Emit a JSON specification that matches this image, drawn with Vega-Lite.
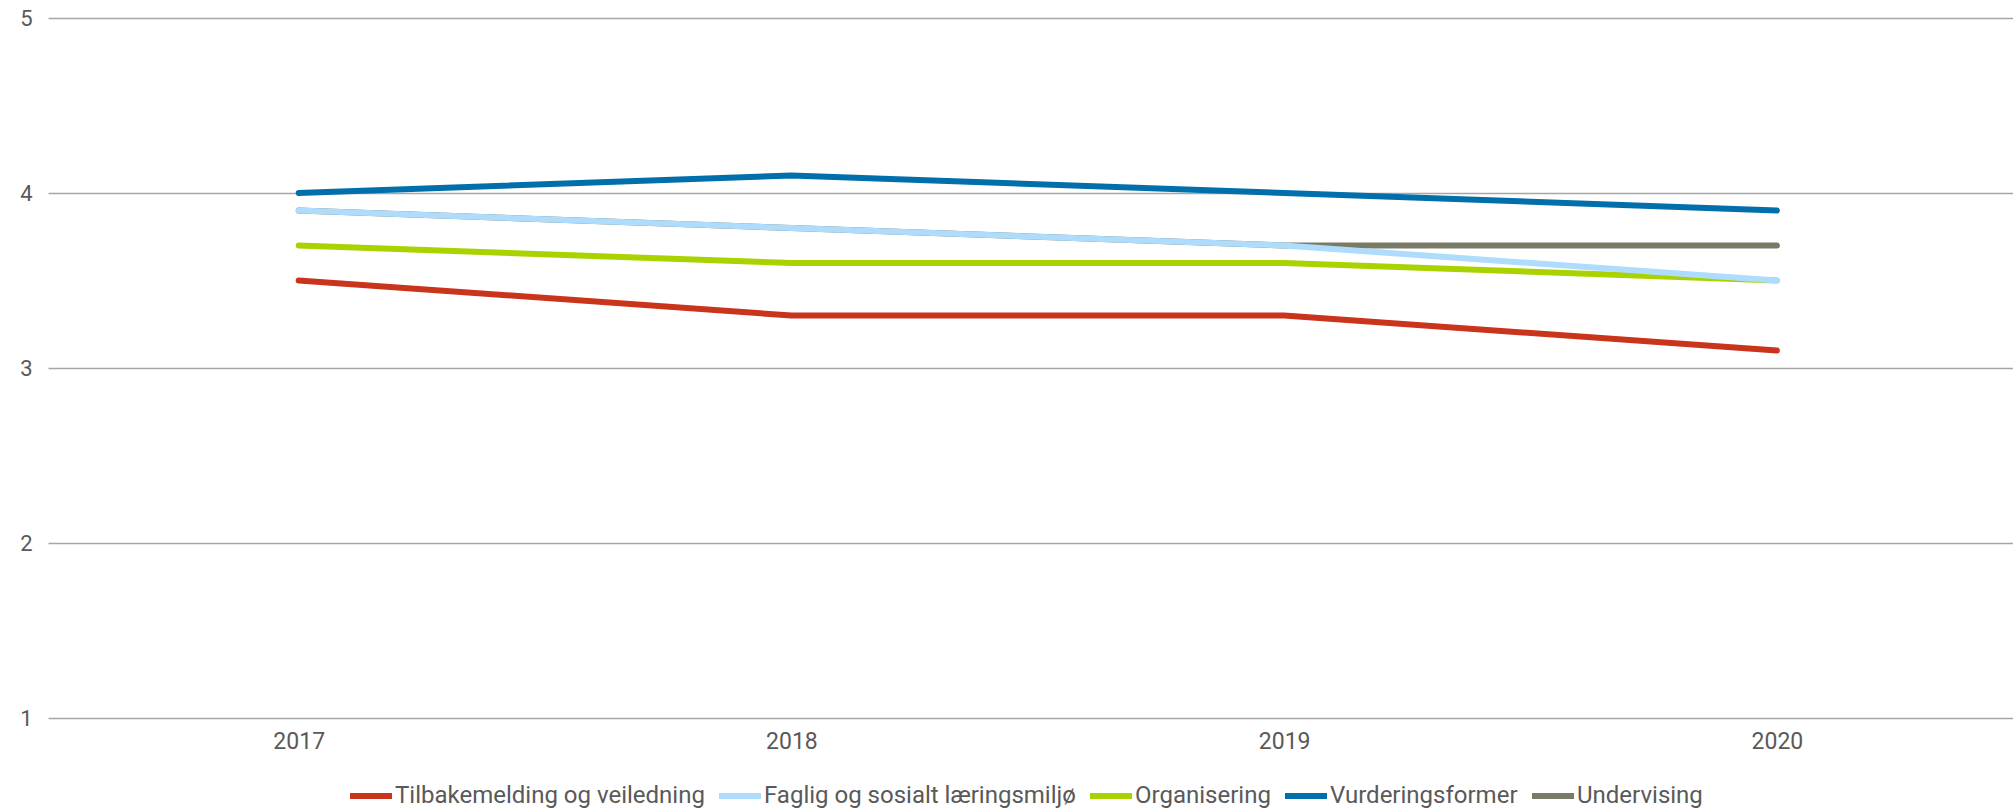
{
  "$schema": "https://vega.github.io/schema/vega-lite/v6.json",
  "width": 1965,
  "height": 700,
  "autosize": {"type": "none"},
  "padding": {"left": 48, "top": 18, "right": 0, "bottom": 91},
  "background": "white",
  "config": {
    "view": {"stroke": null},
    "font": "Roboto"
  },
  "data": {
    "values": [
      {"year": "2017", "series": "Undervising", "value": 3.9},
      {"year": "2018", "series": "Undervising", "value": 3.8},
      {"year": "2019", "series": "Undervising", "value": 3.7},
      {"year": "2020", "series": "Undervising", "value": 3.7},
      {"year": "2017", "series": "Tilbakemelding og veiledning", "value": 3.5},
      {"year": "2018", "series": "Tilbakemelding og veiledning", "value": 3.3},
      {"year": "2019", "series": "Tilbakemelding og veiledning", "value": 3.3},
      {"year": "2020", "series": "Tilbakemelding og veiledning", "value": 3.1},
      {"year": "2017", "series": "Organisering", "value": 3.7},
      {"year": "2018", "series": "Organisering", "value": 3.6},
      {"year": "2019", "series": "Organisering", "value": 3.6},
      {"year": "2020", "series": "Organisering", "value": 3.5},
      {"year": "2017", "series": "Faglig og sosialt læringsmiljø", "value": 3.9},
      {"year": "2018", "series": "Faglig og sosialt læringsmiljø", "value": 3.8},
      {"year": "2019", "series": "Faglig og sosialt læringsmiljø", "value": 3.7},
      {"year": "2020", "series": "Faglig og sosialt læringsmiljø", "value": 3.5},
      {"year": "2017", "series": "Vurderingsformer", "value": 4.0},
      {"year": "2018", "series": "Vurderingsformer", "value": 4.1},
      {"year": "2019", "series": "Vurderingsformer", "value": 4.0},
      {"year": "2020", "series": "Vurderingsformer", "value": 3.9}
    ]
  },
  "mark": {"type": "line", "strokeWidth": 6, "strokeCap": "round", "strokeJoin": "round"},
  "encoding": {
    "x": {
      "field": "year",
      "type": "ordinal",
      "scale": {"type": "point", "padding": 0.494, "align": 0.515},
      "axis": {
        "title": null,
        "domain": false,
        "ticks": false,
        "grid": false,
        "labelAngle": 0,
        "labelFont": "Roboto",
        "labelFontSize": 23,
        "labelColor": "#595959",
        "labelPadding": 12
      }
    },
    "y": {
      "field": "value",
      "type": "quantitative",
      "scale": {"domain": [1, 5], "nice": false, "zero": false},
      "axis": {
        "title": null,
        "values": [1, 2, 3, 4, 5],
        "domain": false,
        "ticks": false,
        "grid": true,
        "gridColor": "#a6a6a6",
        "gridWidth": 1.3,
        "labelFont": "Roboto",
        "labelFontSize": 22,
        "labelColor": "#595959",
        "labelPadding": 16
      }
    },
    "color": {
      "field": "series",
      "type": "nominal",
      "scale": {
        "domain": ["Tilbakemelding og veiledning", "Faglig og sosialt læringsmiljø", "Organisering", "Vurderingsformer", "Undervising"],
        "range": ["#c9341b", "#addcfc", "#a8d300", "#006fac", "#7a7a68"]
      },
      "legend": {
        "title": null,
        "orient": "none",
        "legendX": 299,
        "legendY": 754,
        "direction": "horizontal",
        "symbolType": "stroke",
        "symbolSize": 1764,
        "symbolStrokeWidth": 6,
        "labelFont": "Roboto",
        "labelFontSize": 24,
        "labelColor": "#595959",
        "labelOffset": 0,
        "columnPadding": 2,
        "labelLimit": 500
      }
    },
    "order": {"field": "series"}
  }
}
